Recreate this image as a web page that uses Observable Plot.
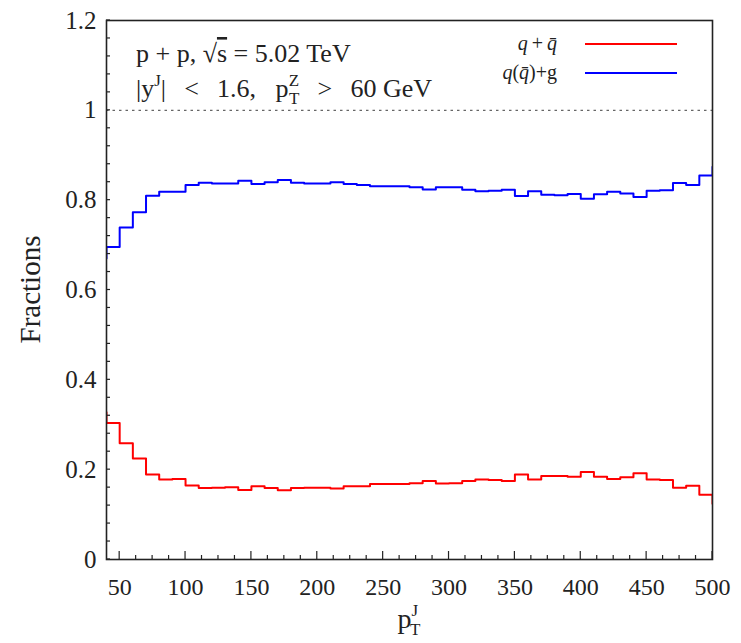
<!DOCTYPE html>
<html><head><meta charset="utf-8">
<script src="https://cdn.jsdelivr.net/npm/d3@7"></script>
<script src="https://cdn.jsdelivr.net/npm/@observablehq/plot@0.6"></script>
<style>body{margin:0;background:#fff}</style>
</head><body><div id="chart"></div>
<script>
// bin left edges (bin width 10 GeV); first and last bins lie outside the frame and are clipped
const binLeft = [30,40,50,60,70,80,90,100,110,120,130,140,150,160,170,180,190,200,210,220,230,240,250,260,270,280,290,300,310,320,330,340,350,360,370,380,390,400,410,420,430,440,450,460,470,480,490,500];
const binWidth = 10;
const fracQQbar = [0.328,0.304,0.259,0.225,0.189,0.178,0.179,0.165,0.159,0.160,0.161,0.155,0.163,0.159,0.154,0.159,0.160,0.160,0.158,0.163,0.163,0.168,0.168,0.168,0.170,0.175,0.169,0.170,0.175,0.178,0.177,0.175,0.189,0.178,0.186,0.186,0.184,0.195,0.184,0.179,0.183,0.192,0.178,0.177,0.160,0.164,0.144,0.124];
const fracQG = [0.670,0.696,0.739,0.773,0.810,0.819,0.819,0.834,0.839,0.837,0.837,0.843,0.836,0.840,0.845,0.839,0.837,0.837,0.840,0.836,0.834,0.831,0.831,0.831,0.829,0.824,0.829,0.829,0.823,0.820,0.821,0.823,0.809,0.820,0.812,0.811,0.814,0.803,0.813,0.819,0.815,0.807,0.821,0.822,0.838,0.834,0.855,0.874];
const xMajor = [50,100,150,200,250,300,350,400,450,500];
const xMinor = d3.range(62.5, 500, 12.5).filter(v => v % 50 !== 0);
const yLabels = [0,0.2,0.4,0.6,0.8,1,1.2];
const yMinor = d3.range(0, 1.2001, 0.04);

const serif = "'Liberation Serif', 'DejaVu Serif', serif";

function steps(vals) {
  const pts = [];
  vals.forEach((v, i) => { pts.push({x: binLeft[i], y: v}); pts.push({x: binLeft[i] + binWidth, y: v}); });
  return pts;
}

const ticksMark = (index, scales, values, dims) => {
  const g = d3.create("svg:g").attr("stroke", "#222").attr("stroke-width", 1.2);
  const yb = dims.height - dims.marginBottom;
  const xl = dims.marginLeft;
  for (const v of xMajor) g.append("line").attr("x1", scales.x(v)).attr("x2", scales.x(v)).attr("y1", yb).attr("y2", yb - 8);
  for (const v of xMinor) g.append("line").attr("x1", scales.x(v)).attr("x2", scales.x(v)).attr("y1", yb).attr("y2", yb - 4);
  for (const v of yMinor) g.append("line").attr("x1", xl).attr("x2", xl + 4).attr("y1", scales.y(v)).attr("y2", scales.y(v));
  return g.node();
};

const annot = (index, scales, values, dims) => {
  const g = d3.create("svg:g").attr("font-family", serif).attr("fill", "#222").attr("text-anchor", "start");
  const L = dims.marginLeft;
  // top-left text
  const t1 = g.append("text").attr("x", L + 30).attr("y", 62).attr("font-size", 26).attr("text-anchor", "start");
  t1.append("tspan").text("p + p, ");
  t1.append("tspan").text("√");
  t1.append("tspan").attr("text-decoration", "overline").text("s");
  t1.append("tspan").text(" = 5.02 TeV");
  const t2 = g.append("text").attr("x", L + 30).attr("y", 97).attr("font-size", 26).attr("text-anchor", "start");
  t2.append("tspan").text("|y");
  t2.append("tspan").attr("font-size", 17).attr("dy", -11).text("J");
  t2.append("tspan").attr("dy", 11).text("|\u2002\u2009<\u2002\u20091.6,\u2002 p");
  t2.append("tspan").attr("font-size", 17).attr("dy", -11).text("Z");
  t2.append("tspan").attr("font-size", 17).attr("dx", -10).attr("dy", 18).text("T");
  t2.append("tspan").attr("dy", -7).text("\u2002\u2009>\u2002\u200960 GeV");
  // legend
  const lx = 557;
  const l1 = g.append("text").attr("x", lx).attr("y", 50).attr("text-anchor", "end").attr("font-size", 20);
  l1.append("tspan").attr("font-style", "italic").text("q");
  l1.append("tspan").text("\u2009+\u2009");
  l1.append("tspan").attr("font-style", "italic").text("q\u0304");
  g.append("line").attr("x1", 585).attr("x2", 677).attr("y1", 44).attr("y2", 44).attr("stroke", "#ff0000").attr("stroke-width", 2);
  const l2 = g.append("text").attr("x", lx).attr("y", 79).attr("text-anchor", "end").attr("font-size", 20);
  l2.append("tspan").attr("font-style", "italic").text("q");
  l2.append("tspan").text("(");
  l2.append("tspan").attr("font-style", "italic").text("q\u0304");
  l2.append("tspan").text(")+g");
  g.append("line").attr("x1", 585).attr("x2", 677).attr("y1", 73).attr("y2", 73).attr("stroke", "#0000ff").attr("stroke-width", 2);
  // axis labels
  const cx = (dims.marginLeft + dims.width - dims.marginRight) / 2;
  const xlab = g.append("text").attr("x", cx).attr("y", 628).attr("text-anchor", "middle").attr("font-size", 28);
  xlab.append("tspan").text("p");
  xlab.append("tspan").attr("font-size", 17).attr("dy", -12).text("J");
  xlab.append("tspan").attr("font-size", 17).attr("dx", -8).attr("dy", 19).text("T");
  const cy = (dims.marginTop + dims.height - dims.marginBottom) / 2;
  g.append("text").attr("transform", `translate(40,${cy}) rotate(-90)`).attr("text-anchor", "middle").attr("font-size", 29).text("Fractions");
  return g.node();
};

const chart = Plot.plot({
  width: 741,
  height: 643,
  marginLeft: 106,
  marginRight: 29,
  marginTop: 20,
  marginBottom: 84,
  style: {fontFamily: serif, background: "#fff", color: "#222"},
  x: {domain: [40, 500]},
  y: {domain: [0, 1.2]},
  marks: [
    Plot.ruleY([1], {stroke: "#666", strokeWidth: 1.3, strokeDasharray: "2.5,4"}),
    Plot.line(steps(fracQQbar), {x: "x", y: "y", stroke: "#ff0000", strokeWidth: 2, clip: true}),
    Plot.line(steps(fracQG), {x: "x", y: "y", stroke: "#0000ff", strokeWidth: 2, clip: true}),
    Plot.axisX({ticks: xMajor, tickSize: 0, tickPadding: 18, fontSize: 24, label: null, tickFormat: d3.format("d")}),
    Plot.axisY({ticks: yLabels, tickSize: 0, tickPadding: 10, fontSize: 25, label: null, tickFormat: d => String(d)}),
    ticksMark,
    Plot.frame({stroke: "#222", strokeWidth: 1.6}),
    annot
  ]
});
document.getElementById("chart").appendChild(chart);
</script>
</body></html>
